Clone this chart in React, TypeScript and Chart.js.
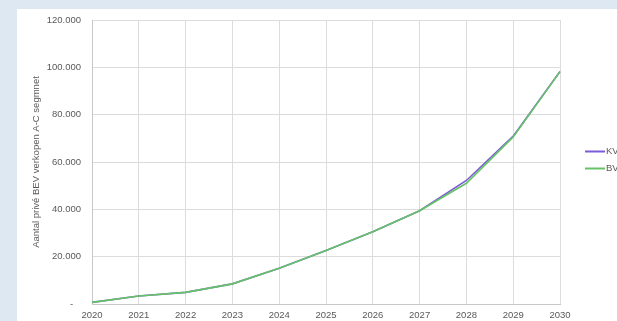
import React, { useEffect, useRef } from "react";
import { Chart, registerables } from "chart.js";

Chart.register(...registerables);

const years = ["2020", "2021", "2022", "2023", "2024", "2025", "2026", "2027", "2028", "2029", "2030"];
const kvValues = [700, 3400, 4900, 8500, 15100, 22600, 30500, 39400, 52200, 70900, 98200];
const bvValues = [700, 3400, 4900, 8500, 15100, 22600, 30500, 39400, 51000, 70600, 98200];
const seriesLabels = ["KV", "BV"];
const yAxisTitle = "Aantal privé BEV verkopen A-C segmnet";

const FONT = "'Liberation Sans', Arial, sans-serif";
const TEXT = "#595959";

const legendPlugin = {
  id: "sideLegend",
  afterDraw(chart: any) {
    const { ctx, chartArea } = chart;
    const ds = chart.data.datasets;
    const x0 = chartArea.right + 25;
    const cy = (chartArea.top + chartArea.bottom) / 2;
    const gap = 17;
    const startY = cy - ((ds.length - 1) * gap) / 2 - 2;
    ctx.save();
    ds.forEach((d: any, i: number) => {
      const y = startY + i * gap;
      ctx.strokeStyle = d.borderColor;
      ctx.lineWidth = 2;
      ctx.beginPath();
      ctx.moveTo(x0, y);
      ctx.lineTo(x0 + 20, y);
      ctx.stroke();
      ctx.fillStyle = TEXT;
      ctx.font = `9.5px ${FONT}`;
      ctx.textBaseline = "middle";
      ctx.textAlign = "left";
      ctx.fillText(d.label, x0 + 21, y);
    });
    ctx.restore();
  },
};

export default function App() {
  const ref = useRef<HTMLCanvasElement | null>(null);
  useEffect(() => {
    document.body.style.margin = "0";
    const chart = new Chart(ref.current!, {
      type: "line",
      data: {
        labels: years,
        datasets: [
          {
            label: seriesLabels[0],
            data: kvValues,
            borderColor: "#7b5cd6",
            backgroundColor: "#7b5cd6",
            borderWidth: 1.6,
            pointRadius: 0,
            tension: 0,
            order: 1,
          },
          {
            label: seriesLabels[1],
            data: bvValues,
            borderColor: "#66c266",
            backgroundColor: "#66c266",
            borderWidth: 1.6,
            pointRadius: 0,
            tension: 0,
            order: 0,
          },
        ],
      },
      options: {
        animation: false,
        responsive: false,
        layout: { padding: { left: 25, top: 20, right: 57, bottom: 0 } },
        plugins: { legend: { display: false }, tooltip: { enabled: false } },
        scales: {
          x: {
            grid: { color: "#dcdcdc", drawTicks: false },
            border: { color: "#c8c8c8" },
            ticks: {
              color: TEXT,
              font: { family: FONT, size: 9.5 },
              padding: 6,
              maxRotation: 0,
            },
            afterFit(scale: any) {
              scale.height = 17;
            },
          },
          y: {
            min: 0,
            max: 120000,
            grid: { color: "#dcdcdc", drawTicks: false },
            border: { color: "#c8c8c8" },
            ticks: {
              stepSize: 20000,
              color: TEXT,
              font: { family: FONT, size: 9.5 },
              padding: 11,
              callback: (v: any) => (v === 0 ? "-   " : Number(v).toLocaleString("nl-NL", { minimumFractionDigits: 0 }).replace(/,/g, ".")),
            },
            title: {
              display: true,
              text: yAxisTitle,
              color: TEXT,
              font: { family: FONT, size: 9.5 },
              padding: { top: 6, bottom: 0 },
            },
            afterFit(scale: any) {
              scale.width = 67;
            },
          },
        },
      },
      plugins: [legendPlugin],
    });
    return () => chart.destroy();
  }, []);

  return (
    <div style={{ position: "fixed", left: 0, top: 0, width: 617, height: 321, background: "#dee8f3", overflow: "hidden" }}>
      <div style={{ position: "absolute", left: 17, top: 9, right: 0, bottom: 0, background: "#ffffff" }} />
      <canvas ref={ref} width={617} height={321} style={{ position: "absolute", left: 0, top: 0, width: 617, height: 321 }} />
    </div>
  );
}
